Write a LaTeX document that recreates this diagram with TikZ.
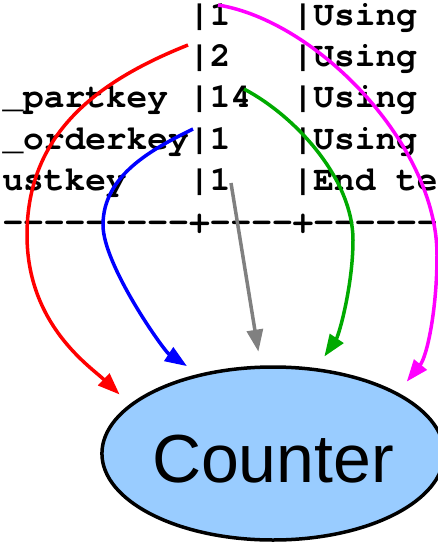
\documentclass[tikz,border=0pt]{standalone}
\usepackage{fontspec}
\setsansfont{Liberation Sans}
\newfontfamily\tablefont{TeX Gyre Cursor}
\usepackage{tikz}
\usetikzlibrary{arrows.meta}
\usetikzlibrary{positioning, shapes.geometric}
\definecolor{counterblue}{HTML}{99CCFF}
\definecolor{flowgreen}{HTML}{00AA00}
\definecolor{flowgray}{HTML}{808080}
\definecolor{flowmagenta}{HTML}{FF00FF}
\definecolor{flowred}{HTML}{FF0000}
\definecolor{flowblue}{HTML}{0000FF}
\tikzset{
cell/.style = { font = \tablefont\bfseries\fontsize{34.5}{41.7}\selectfont, inner sep = 0pt, text = black },
counter/.style = { ellipse, draw = black, fill = counterblue, line width = 3.5pt, minimum width = 326pt, minimum height = 173pt, inner sep = 0pt, text height = 58pt, text depth = 1pt, font = \sffamily\fontsize{68}{80}\selectfont },
flow/.style = { line width = 3.5pt, -{Triangle[length=22pt, width=16pt]}, shorten >= 14pt },
}

\begin{document}
\begin{tikzpicture}[x = 1pt, y = -1pt]
      \clip (0, 0) rectangle (438, 544);
      % table rows
      \node[cell, anchor = base west] (mid one) at (189, 25) {|1};
      \node[cell, anchor = base west] (right one) at (292.5, 25) {|Using};
      \node[cell, anchor = base west] (mid two) at (189, 66.2) {|2};
      \node[cell, anchor = base west] (right two) at (292.5, 66.2) {|Using};
      \node[cell, anchor = base east] (left three) at (168.3, 107.4) {\_partkey};
      \node[cell, anchor = base west] (mid three) at (189, 107.4) {|14};
      \node[cell, anchor = base west] (right three) at (292.5, 107.4) {|Using};
      \node[cell, anchor = base east] (left four) at (189, 149.1) {\_orderkey};
      \node[cell, anchor = base west] (mid four) at (189, 149.1) {|1};
      \node[cell, anchor = base west] (right four) at (292.5, 149.1) {|Using};
      \node[cell, anchor = base east] (left five) at (126.9, 190.8) {ustkey};
      \node[cell, anchor = base west] (mid five) at (189, 190.8) {|1};
      \node[cell, anchor = base west] (right five) at (292.5, 190.8) {|End te};
      \node[cell, anchor = base east] (rule left) at (189, 232.5) {-{}-{}-{}-{}-{}-{}-{}-{}-};
      \node[cell, anchor = base west] (rule right) at (189, 232.5) {+-{}-{}-{}-+-{}-{}-{}-{}-{}-};
      % counter
      \node[counter] (cnt) at (273, 453.5) {Counter};
      % arrow starts
      \coordinate (from one) at (218, 5);
      \coordinate (from two) at (188, 45);
      \coordinate (from three) at (244, 89);
      \coordinate (from four) at (193, 129);
      \coordinate (from five) at (231, 183);
      \draw[flow, flowred] (from two) .. controls (95, 82) and (27, 135) .. (27, 235) .. controls (27, 325) and (90.6, 366.8) .. (cnt.161);
      \draw[flow, flowblue] (from four) .. controls (152.5, 149) and (103, 175) .. (103, 225) .. controls (103, 265) and (164, 351) .. (cnt.133.5);
      \draw[flow, flowgray] (from five) -- (cnt.98);
      \draw[flow, flowgreen] (from three) .. controls (297, 117) and (353, 180) .. (353, 240) .. controls (353, 285) and (339, 335) .. (cnt.63.6);
      \draw[flow, flowmagenta] (from one) .. controls (317, 21) and (437, 145) .. (437, 255) .. controls (437, 310) and (427, 356.5) .. (cnt.26.1);
    \end{tikzpicture}
\end{document}
